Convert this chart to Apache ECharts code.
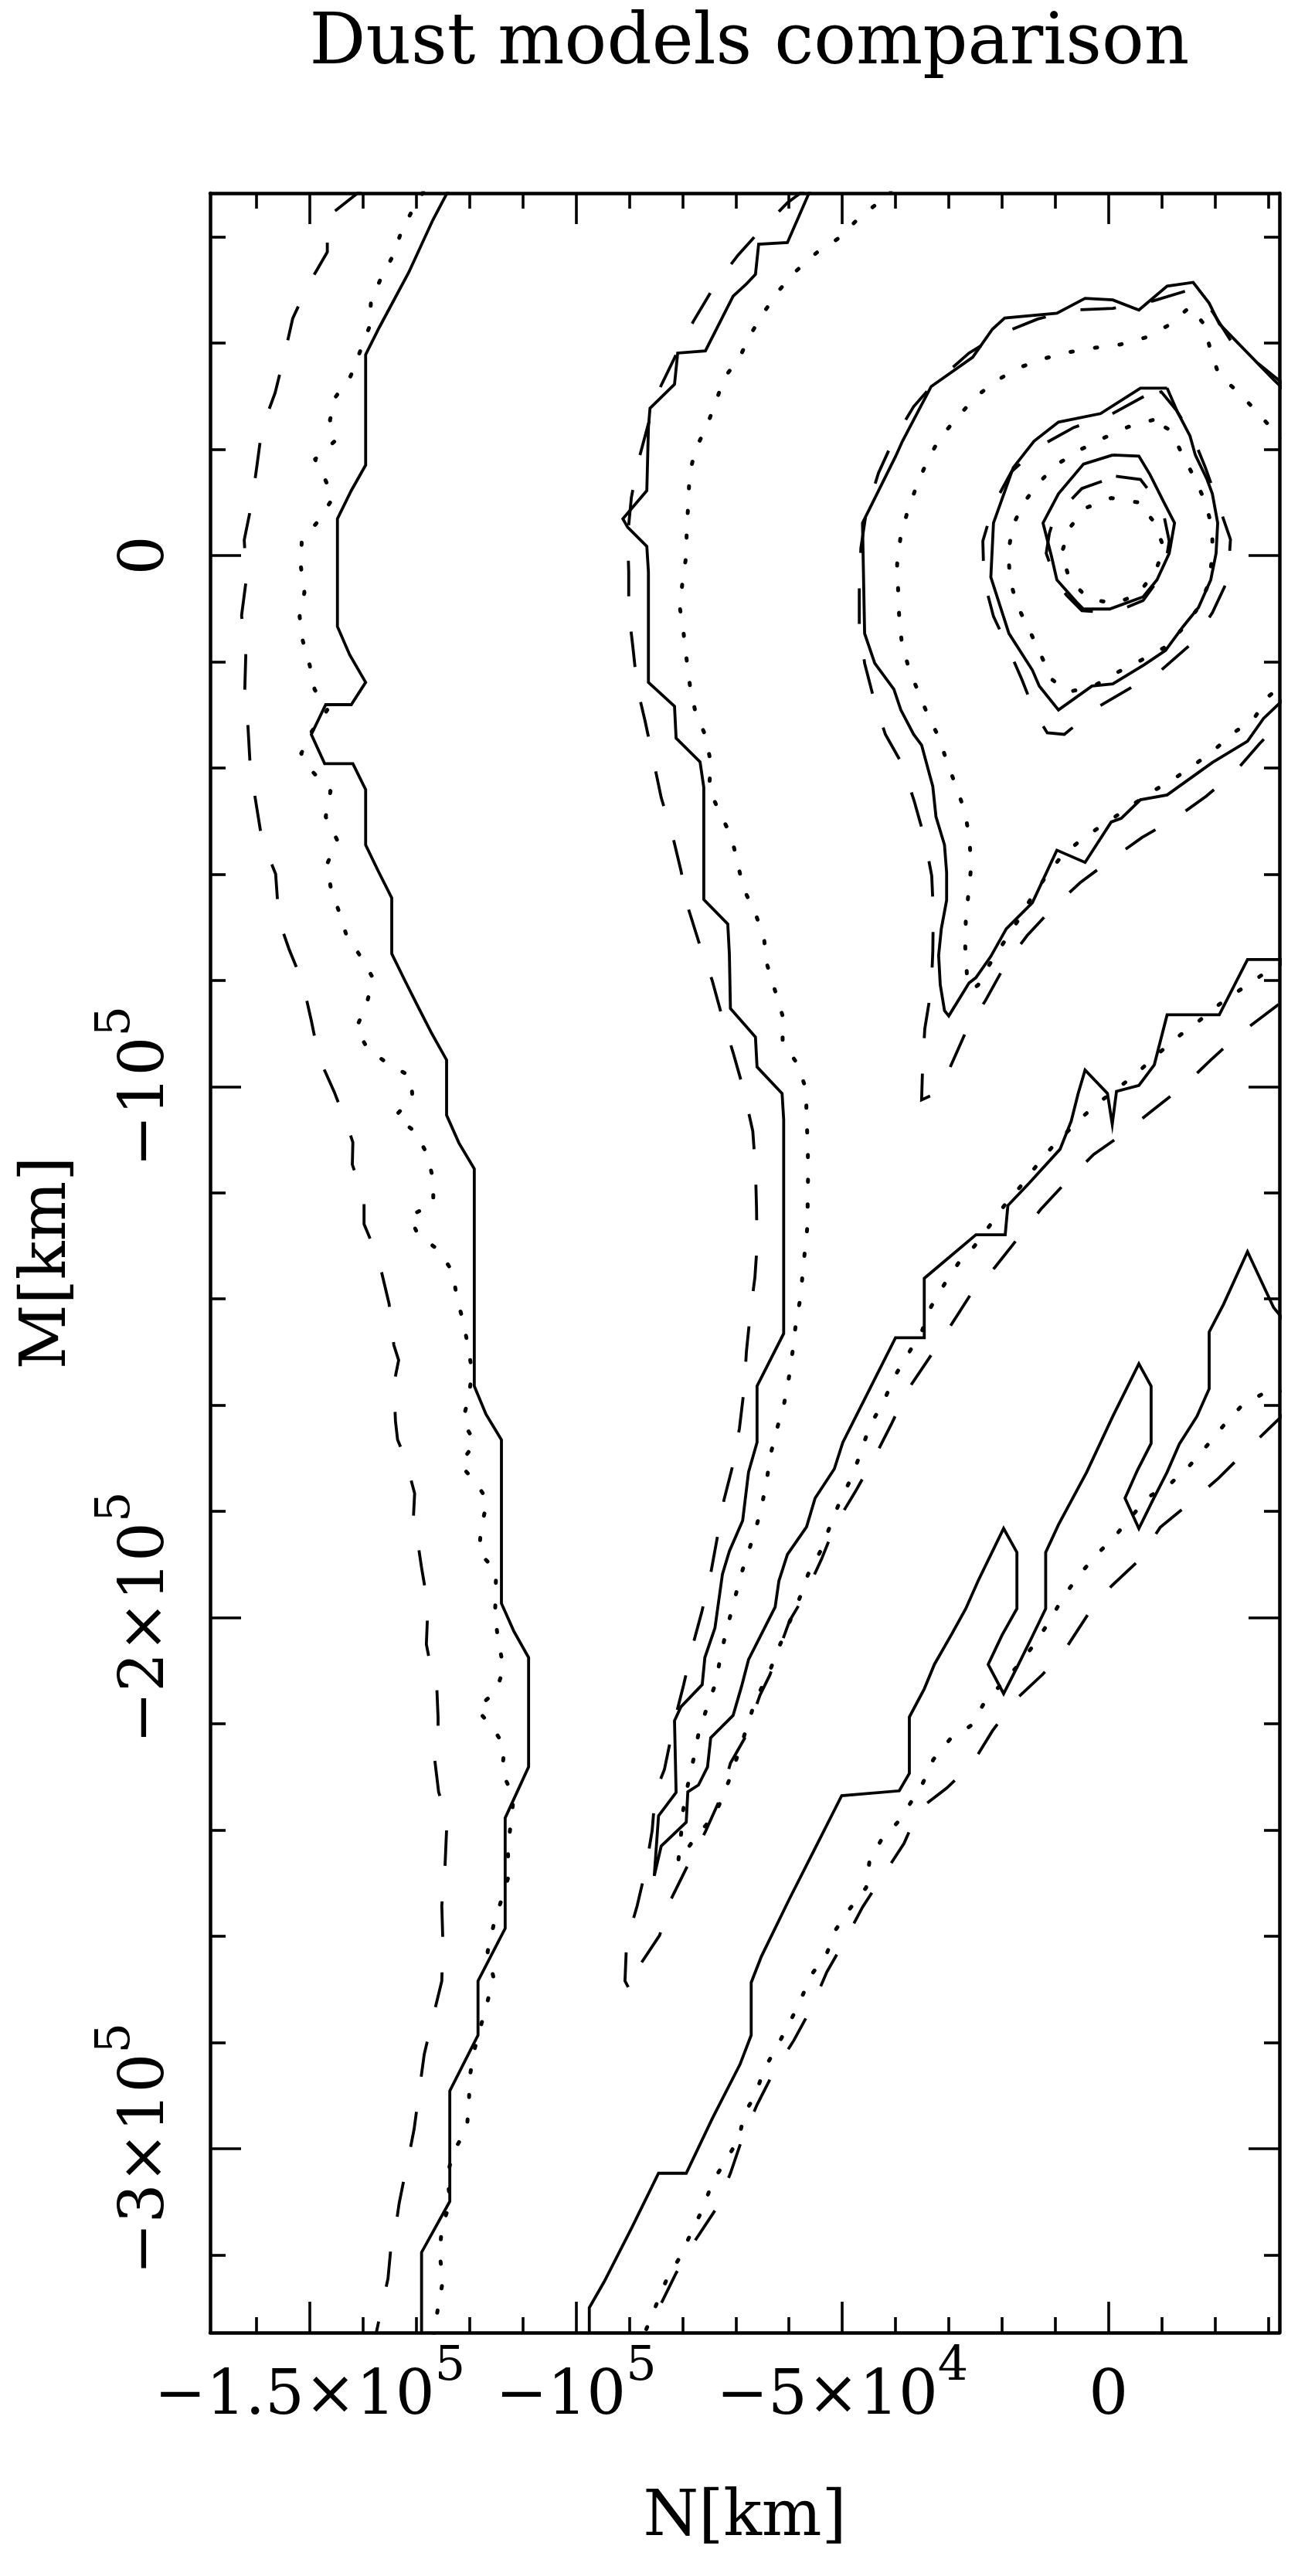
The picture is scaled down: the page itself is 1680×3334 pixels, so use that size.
<!DOCTYPE html>
<html>
<head>
<meta charset="utf-8">
<script src="https://cdn.jsdelivr.net/npm/echarts@6/dist/echarts.min.js"></script>
<style>
html,body{margin:0;padding:0;background:#fff;}
#chart{width:1680px;height:3334px;}
</style>
</head>
<body>
<div id="chart"></div>
<script>
// All coordinates in units of 10^3 km  (N = x, M = y)
const xRange = [-168.7, 32.1];
const yRange = [-334.6, 68.2];
const xMajorTicks = [-150, -100, -50, 0];
const xMinorTicks = [-160, -140, -130, -120, -110, -90, -80, -70, -60, -40, -30, -20, -10, 10, 20, 30];
const yMajorTicks = [-300, -200, -100, 0];
const yMinorTicks = [-320, -280, -260, -240, -220, -180, -160, -140, -120, -80, -60, -40, -20, 20, 40, 60];
const xTickLabels = { '-150': ['−1.5×10', '5'], '-100': ['−10', '5'], '-50': ['−5×10', '4'], '0': ['0', ''] };
const yTickLabels = { '0': ['0', ''], '-100': ['−10', '5'], '-200': ['−2×10', '5'], '-300': ['−3×10', '5'] };

// ---- western band ----
const solidWest = [[-123.8,69.0],[-126.9,63.1],[-131.4,53.3],[-136.9,43.0],[-139.5,37.8],[-139.5,17.0],[-142.2,12.2],[-144.8,6.9],[-144.8,-13.4],[-142.5,-18.7],[-139.5,-23.9],[-142.2,-28.1],[-147.0,-28.1],[-149.7,-33.7],[-147.2,-39.2],[-141.9,-39.2],[-139.5,-44.1],[-139.5,-54.5],[-137.2,-59.3],[-134.6,-64.5],[-134.6,-75.0],[-132.1,-80.1],[-129.5,-85.3],[-127.2,-89.8],[-124.3,-95.0],[-124.3,-105.4],[-122.0,-110.6],[-119.1,-115.5],[-119.1,-156.4],[-116.9,-161.7],[-114.0,-166.5],[-114.0,-197.3],[-111.7,-202.5],[-108.9,-207.5],[-108.9,-228.1],[-113.3,-237.7],[-113.3,-258.5],[-118.4,-268.4],[-118.4,-278.6],[-123.7,-289.1],[-123.7,-309.9],[-129.0,-319.5],[-129.0,-336.0]];
const dottedWest = [[-128.7,68.4],[-130.3,65.7],[-132.7,61.3],[-134.2,56.7],[-136.5,52.5],[-138.5,47.8],[-138.8,43.0],[-142.3,33.8],[-145.1,29.9],[-146.2,25.5],[-145.2,21.6],[-149.0,18.1],[-147.2,14.5],[-145.6,10.9],[-148.3,6.6],[-151.5,2.7],[-151.7,-1.8],[-151.0,-7.0],[-151.9,-11.5],[-151.3,-16.1],[-150.0,-20.7],[-149.1,-25.2],[-146.7,-29.1],[-149.6,-33.1],[-151.6,-37.3],[-149.3,-40.9],[-146.1,-44.4],[-147.0,-49.2],[-144.8,-53.7],[-146.7,-58.0],[-146.1,-62.3],[-144.6,-66.8],[-143.2,-71.2],[-140.6,-75.3],[-138.1,-79.6],[-139.3,-84.4],[-141.3,-89.1],[-139.1,-92.9],[-135.2,-95.8],[-131.0,-98.1],[-130.7,-102.2],[-133.9,-105.5],[-130.0,-108.7],[-127.9,-112.9],[-126.8,-117.6],[-126.8,-122.1],[-131.3,-124.4],[-129.7,-127.8],[-125.8,-130.8],[-123.1,-135.0],[-122.4,-139.7],[-121.1,-144.5],[-120.2,-149.4],[-119.5,-153.8],[-120.2,-158.7],[-121.3,-163.1],[-118.9,-167.0],[-121.8,-171.1],[-118.9,-174.5],[-116.6,-177.9],[-117.8,-182.9],[-118.2,-187.7],[-115.0,-191.2],[-115.2,-199.6],[-114.6,-204.4],[-113.6,-209.4],[-114.9,-213.7],[-118.7,-217.2],[-115.7,-220.6],[-113.4,-224.3],[-113.9,-229.0],[-111.7,-233.8],[-112.8,-243.7],[-112.6,-248.5],[-114.0,-253.1],[-115.5,-258.0],[-116.6,-262.9],[-115.5,-267.7],[-116.6,-272.2],[-119.2,-281.8],[-120.0,-286.8],[-120.1,-291.5],[-120.5,-296.2],[-123.1,-300.7],[-124.2,-305.2],[-123.6,-310.0],[-125.2,-314.8],[-125.6,-319.8],[-125.0,-324.9],[-125.9,-329.8],[-126.6,-334.3],[-126.8,-336.0]];
const dashedWest = [[-140.0,69.0],[-146.7,63.7],[-146.7,57.1],[-150.3,50.9],[-153.2,44.6],[-154.8,37.5],[-156.5,30.6],[-159.0,23.8],[-159.9,17.0],[-160.9,9.8],[-162.3,2.9],[-161.9,-4.4],[-162.8,-11.3],[-162.0,-18.5],[-162.2,-25.4],[-161.6,-32.2],[-161.2,-39.3],[-160.3,-45.3],[-159.0,-53.4],[-156.4,-60.0],[-155.8,-68.6],[-153.9,-74.1],[-151.3,-80.5],[-149.7,-87.6],[-148.3,-94.5],[-145.4,-101.0],[-142.9,-107.5],[-141.9,-110.5],[-142.0,-114.7],[-139.8,-121.1],[-139.8,-125.9],[-138.8,-128.3],[-136.5,-135.0],[-135.1,-140.9],[-134.2,-148.7],[-133.3,-151.5],[-134.2,-156.0],[-133.9,-163.0],[-133.5,-166.5],[-132.1,-169.9],[-130.3,-176.6],[-130.6,-182.5],[-130.0,-183.8],[-129.0,-190.6],[-127.8,-197.7],[-128.1,-205.0],[-127.6,-207.6],[-126.2,-211.7],[-125.9,-218.8],[-125.9,-222.9],[-126.6,-226.1],[-125.8,-232.8],[-124.2,-238.0],[-124.3,-239.9],[-124.6,-246.9],[-125.2,-254.2],[-125.0,-261.0],[-125.2,-268.4],[-126.8,-275.0],[-128.5,-282.2],[-129.4,-288.9],[-130.4,-296.3],[-131.7,-303.0],[-132.1,-304.7],[-133.2,-310.2],[-134.2,-317.1],[-134.8,-319.0],[-135.3,-324.4],[-137.5,-334.6],[-137.8,-336.0]];

// ---- central tongue ----
const solidTongue = [[-55.9,69.0],[-60.3,58.9],[-65.7,58.6],[-66.3,52.9],[-68.1,51.0],[-70.5,48.8],[-75.7,38.5],[-80.9,38.1],[-81.5,32.2],[-86.1,27.7],[-86.4,24.1],[-86.7,12.2],[-91.2,6.9],[-90.3,5.3],[-86.7,1.7],[-86.4,-3.1],[-86.4,-23.9],[-81.5,-28.4],[-81.2,-34.4],[-76.7,-38.9],[-76.0,-43.7],[-76.0,-64.8],[-71.5,-69.4],[-71.2,-75.0],[-71.0,-85.3],[-68.1,-88.6],[-66.3,-90.7],[-66.0,-96.3],[-61.3,-101.3],[-61.0,-106.2],[-61.0,-146.5],[-66.0,-156.4],[-66.0,-167.0],[-67.6,-172.6],[-68.7,-181.7],[-71.2,-187.5],[-72.5,-191.8],[-73.9,-201.9],[-75.8,-207.5],[-76.3,-212.6],[-80.3,-216.8],[-81.5,-219.4],[-81.2,-232.9],[-84.5,-237.3],[-85.3,-248.6],[-84.0,-243.0],[-79.3,-238.5],[-79.0,-232.8],[-77.0,-231.5],[-75.3,-228.1],[-74.7,-222.6],[-70.5,-218.4],[-68.9,-212.9],[-67.6,-207.9],[-62.6,-198.0],[-61.9,-193.1],[-60.3,-188.1],[-56.7,-182.9],[-55.1,-177.5],[-51.5,-172.0],[-49.9,-167.0],[-40.0,-147.3],[-34.6,-147.3],[-34.6,-136.1],[-29.4,-131.7],[-24.9,-127.9],[-19.4,-127.9],[-18.9,-122.4],[-15.0,-118.3],[-9.1,-111.8],[-7.0,-106.5],[-5.7,-101.3],[-4.4,-96.9],[-0.2,-101.3],[0.7,-107.1],[1.5,-100.9],[5.7,-99.8],[8.6,-95.9],[11.0,-86.5],[20.8,-86.5],[26.1,-76.1],[33.2,-76.1]];
const dottedTongue = [[-40.6,69.0],[-42.9,66.7],[-47.2,63.2],[-50.7,59.7],[-54.8,57.0],[-58.6,53.6],[-61.8,50.0],[-64.7,45.8],[-67.4,41.3],[-69.3,37.2],[-72.2,33.4],[-73.8,28.7],[-75.5,24.2],[-77.7,19.7],[-78.7,14.9],[-78.9,10.0],[-79.2,5.0],[-79.3,-0.1],[-80.0,-4.9],[-80.5,-9.8],[-79.8,-14.6],[-79.2,-19.8],[-78.6,-24.5],[-77.6,-29.4],[-75.7,-33.9],[-74.7,-39.0],[-75.0,-44.1],[-72.9,-48.6],[-70.8,-53.0],[-69.7,-57.7],[-68.6,-62.6],[-66.3,-67.4],[-64.7,-72.1],[-64.1,-77.1],[-62.6,-82.0],[-61.2,-86.7],[-61.2,-91.7],[-58.3,-95.9],[-56.8,-100.6],[-56.7,-105.8],[-56.5,-110.7],[-56.4,-116.0],[-56.5,-120.8],[-56.5,-125.9],[-57.0,-130.8],[-57.4,-134.6],[-57.8,-139.5],[-58.7,-144.5],[-59.3,-149.7],[-60.0,-154.7],[-60.9,-159.6],[-62.3,-164.6],[-63.5,-169.4],[-64.2,-174.3],[-65.2,-179.4],[-66.5,-184.2],[-68.1,-189.0],[-69.3,-192.9],[-70.5,-197.7],[-71.8,-202.5],[-72.9,-207.6],[-73.8,-212.4],[-75.5,-217.2],[-77.0,-221.9],[-77.9,-226.5],[-79.0,-231.5],[-79.9,-236.4],[-80.3,-241.1],[-80.8,-246.0],[-78.3,-242.4],[-73.7,-236.7],[-71.0,-230.0],[-68.6,-222.8],[-66.3,-215.5],[-63.8,-210.5],[-61.9,-205.6],[-58.0,-196.3],[-56.4,-191.8],[-53.9,-187.1],[-52.2,-182.5],[-50.4,-178.0],[-48.1,-173.3],[-46.4,-168.5],[-44.8,-163.8],[-42.3,-159.5],[-40.3,-154.8],[-37.8,-150.6],[-35.1,-146.2],[-33.3,-141.4],[-30.8,-137.2],[-28.1,-133.1],[-25.3,-130.2],[-22.1,-125.9],[-19.2,-121.9],[-16.0,-118.2],[-13.0,-114.2],[-9.9,-110.6],[-6.0,-106.8],[-2.5,-103.5],[1.4,-100.6],[5.3,-97.5],[9.1,-94.0],[12.8,-90.8],[16.8,-87.8],[20.7,-84.6],[24.7,-81.8],[28.8,-79.0],[33.2,-76.4]];
const dashedTongue = [[-56.8,69.0],[-60.3,66.4],[-66.0,60.5],[-69.6,56.5],[-74.2,50.4],[-78.0,44.0],[-81.2,37.8],[-84.3,31.4],[-86.4,24.8],[-88.3,17.7],[-89.6,10.9],[-90.3,3.7],[-90.1,-3.1],[-90.1,-10.5],[-89.3,-17.4],[-88.5,-24.9],[-87.0,-31.3],[-85.4,-38.9],[-84.0,-45.6],[-81.9,-52.6],[-80.3,-59.3],[-78.9,-66.5],[-76.9,-72.9],[-74.4,-80.1],[-72.6,-86.7],[-70.5,-93.6],[-68.6,-100.3],[-66.8,-108.4],[-66.3,-115.4],[-66.1,-122.8],[-66.0,-130.0],[-66.4,-135.9],[-67.3,-143.0],[-68.0,-149.9],[-68.4,-156.7],[-69.3,-164.3],[-70.5,-171.1],[-72.2,-177.8],[-73.5,-185.1],[-74.8,-192.2],[-76.4,-199.0],[-78.2,-205.7],[-79.8,-212.7],[-81.5,-219.4],[-83.4,-228.6],[-85.1,-232.9],[-85.7,-240.1],[-86.9,-247.3],[-88.5,-254.2],[-90.5,-261.1],[-90.8,-268.4],[-89.8,-270.3],[-88.2,-265.7],[-84.3,-259.8],[-82.1,-252.9],[-79.0,-246.6],[-75.7,-240.3],[-72.8,-233.8],[-71.0,-227.4],[-68.1,-222.3],[-65.5,-214.7],[-63.6,-210.8],[-59.9,-200.6],[-57.0,-195.7],[-53.9,-189.0],[-51.3,-182.5],[-47.5,-176.2],[-44.0,-169.9],[-40.7,-163.4],[-37.7,-157.1],[-33.6,-151.0],[-29.7,-145.1],[-25.8,-139.0],[-21.3,-134.0],[-17.2,-128.8],[-12.7,-123.1],[-7.9,-117.9],[-2.8,-112.8],[3.0,-108.7],[8.6,-104.2],[14.2,-99.8],[19.2,-95.0],[24.6,-90.1],[33.2,-83.6]];

// ---- teardrop (outer, open to the east edge) ----
const solidTear = [[33.2,31.0],[31.0,33.1],[20.8,43.6],[18.9,47.5],[15.9,51.4],[11.0,50.7],[5.7,46.2],[0.8,48.1],[-4.4,48.4],[-9.7,45.6],[-19.5,44.7],[-21.8,42.6],[-25.5,37.3],[-33.3,31.8],[-38.7,21.5],[-40.0,18.6],[-46.2,6.1],[-45.8,-14.7],[-43.9,-20.3],[-40.3,-25.2],[-39.0,-29.1],[-36.6,-33.7],[-35.1,-35.7],[-33.0,-43.5],[-32.4,-49.2],[-30.8,-54.5],[-30.4,-59.7],[-30.4,-64.9],[-31.4,-70.3],[-31.9,-75.3],[-31.6,-80.8],[-30.8,-85.7],[-30.0,-86.7],[-26.2,-80.5],[-24.9,-79.5],[-22.1,-75.5],[-19.2,-70.3],[-14.3,-65.4],[-9.7,-55.5],[-4.4,-57.8],[0.5,-50.2],[2.4,-49.5],[6.0,-46.0],[11.0,-45.1],[19.5,-39.0],[26.1,-35.0],[29.1,-30.7],[33.2,-26.8]];
const dashedTear = [[33.2,32.0],[23.1,40.2],[19.7,45.6],[16.8,49.5],[14.6,49.8],[8.3,47.9],[0.8,46.5],[-6.7,46.2],[-13.3,44.5],[-20.2,41.7],[-26.2,38.1],[-33.3,31.8],[-36.6,28.0],[-40.3,21.9],[-43.2,15.5],[-45.5,8.1],[-46.5,1.4],[-46.8,-6.2],[-46.8,-13.0],[-45.8,-20.3],[-44.0,-27.3],[-41.9,-33.7],[-38.8,-39.2],[-36.5,-46.2],[-34.6,-53.0],[-33.2,-60.3],[-32.9,-67.1],[-33.0,-74.7],[-33.3,-81.7],[-34.5,-89.1],[-34.9,-95.9],[-35.1,-102.5],[-33.3,-101.7],[-29.8,-96.5],[-26.8,-89.7],[-23.1,-83.8],[-19.4,-77.1],[-15.3,-71.6],[-10.5,-66.4],[-5.3,-61.6],[0.7,-57.1],[6.3,-53.1],[12.7,-49.4],[18.4,-45.3],[23.9,-40.6],[28.4,-35.4],[33.2,-30.5]];
const dottedTear = [[33.2,21.8],[31.0,23.5],[27.8,27.1],[24.3,30.8],[20.7,34.0],[19.1,38.9],[17.8,43.7],[15.3,46.8],[11.4,43.4],[7.2,41.1],[2.2,39.7],[-2.5,39.1],[-7.8,38.2],[-12.3,37.0],[-16.9,35.3],[-21.4,32.7],[-25.2,29.6],[-28.5,25.8],[-31.7,22.1],[-34.2,17.4],[-36.1,12.9],[-37.8,8.1],[-39.1,3.1],[-39.7,-1.7],[-39.5,-6.7],[-39.3,-11.8],[-38.8,-16.6],[-37.4,-21.6],[-35.5,-26.2],[-33.6,-30.9],[-31.9,-34.1],[-30.3,-39.0],[-28.5,-43.8],[-26.9,-48.5],[-26.1,-53.6],[-25.8,-58.7],[-26.3,-63.6],[-26.8,-68.6],[-26.9,-73.8],[-26.6,-78.7],[-25.6,-81.7],[-24.5,-80.9],[-22.4,-77.1],[-19.7,-72.9],[-16.9,-68.6],[-14.4,-64.3],[-11.5,-60.1],[-8.8,-56.6],[-4.6,-53.1],[-0.5,-50.4],[3.7,-47.5],[7.8,-44.7],[12.1,-42.2],[16.3,-39.3],[20.2,-36.3],[23.9,-33.1],[27.2,-30.9],[30.1,-26.5],[33.2,-23.9]];

// ---- inner rings ----
const solidRing2 = [[11.0,31.5],[6.0,31.5],[-1.5,26.7],[-9.4,25.1],[-14.0,21.5],[-17.9,16.5],[-21.6,6.1],[-22.1,-4.1],[-18.7,-14.7],[-14.3,-21.6],[-13.0,-24.6],[-9.4,-29.1],[-3.1,-24.6],[0.8,-24.2],[6.7,-20.6],[10.7,-17.9],[14.0,-13.4],[16.9,-9.8],[19.2,-4.6],[20.2,0.4],[20.5,6.1],[19.5,11.6],[18.5,14.3],[16.3,18.9],[15.3,22.5],[13.0,26.9],[11.0,31.5]];
const dottedRing2 = [[8.3,25.5],[3.7,24.2],[-0.7,22.2],[-5.3,19.9],[-9.4,17.3],[-13.0,13.8],[-16.0,9.8],[-18.1,5.3],[-18.8,0.4],[-18.5,-4.7],[-17.1,-9.5],[-14.9,-14.0],[-12.7,-18.7],[-10.7,-23.3],[-7.5,-25.7],[-2.8,-24.6],[1.7,-22.0],[6.0,-19.8],[10.4,-17.4],[14.0,-13.7],[16.9,-9.8],[18.9,-5.1],[19.5,0.1],[19.5,5.0],[18.2,10.0],[16.3,14.3],[13.9,18.9],[11.7,23.5],[8.3,25.5]];
const dashedRing2 = [[6.6,29.9],[0.2,26.4],[-6.5,24.1],[-12.8,20.6],[-18.2,15.8],[-21.6,9.5],[-23.6,2.7],[-23.4,-4.6],[-21.6,-11.5],[-19.2,-16.6],[-16.3,-23.3],[-13.7,-29.9],[-11.5,-33.4],[-8.3,-33.7],[-2.1,-28.6],[3.7,-25.2],[9.9,-21.6],[15.6,-16.6],[19.5,-10.8],[22.4,-4.6],[22.9,3.0],[20.5,10.0],[18.2,16.5],[15.9,22.2],[12.7,27.4],[9.9,30.8],[6.6,29.9]];
const solidRing3 = [[0.8,18.9],[5.7,18.7],[7.8,15.2],[10.4,10.0],[12.4,6.1],[11.4,0.4],[9.1,-4.6],[6.5,-7.8],[0.2,-10.1],[-4.7,-10.1],[-6.0,-8.8],[-9.7,-4.6],[-10.7,-0.2],[-12.3,6.1],[-9.4,11.6],[-4.7,17.2],[0.8,18.9]];
const dottedRing3 = [[5.4,10.0],[0.5,10.8],[-4.1,9.0],[-7.3,5.2],[-8.8,0.4],[-7.3,-4.6],[-3.8,-8.1],[1.1,-9.1],[5.4,-7.4],[8.8,-3.1],[10.4,1.4],[8.6,6.3],[5.4,10.0]];
const dashedRing3 = [[1.4,14.9],[6.0,14.3],[7.6,12.2],[10.2,8.5],[11.4,2.7],[10.7,-1.7],[8.8,-5.3],[6.5,-8.5],[0.9,-10.8],[-5.0,-10.4],[-7.9,-7.5],[-10.1,-4.1],[-11.7,0.4],[-11.1,4.2],[-10.1,7.3],[-5.0,12.6],[1.4,14.9]];

// ---- southern band ----
const solidSouth = [[33.2,-144.3],[31.0,-141.6],[26.1,-131.1],[21.6,-141.0],[18.9,-146.2],[18.9,-156.9],[16.6,-162.1],[13.3,-167.3],[11.0,-172.6],[8.3,-177.9],[5.7,-183.2],[3.1,-177.5],[5.4,-172.3],[8.0,-167.2],[8.0,-156.4],[5.7,-152.2],[0.8,-162.1],[-4.1,-172.6],[-9.4,-182.5],[-11.8,-187.7],[-11.8,-198.3],[-14.3,-203.5],[-16.9,-208.8],[-19.7,-214.3],[-22.6,-208.8],[-20.0,-203.3],[-17.2,-198.3],[-17.2,-187.7],[-19.7,-183.2],[-24.5,-193.1],[-26.8,-198.3],[-29.4,-203.0],[-32.7,-208.8],[-34.6,-213.4],[-37.4,-218.7],[-37.4,-229.3],[-39.3,-232.6],[-50.1,-233.5],[-55.1,-243.4],[-60.0,-253.1],[-65.2,-263.8],[-67.1,-268.7],[-67.1,-278.6],[-69.2,-284.1],[-74.4,-294.3],[-79.3,-304.6],[-84.5,-304.6],[-89.5,-314.8],[-94.7,-325.0],[-97.5,-329.9],[-97.5,-336.0]];
const dottedSouth = [[33.2,-157.3],[29.2,-157.7],[25.0,-160.1],[21.7,-163.7],[18.5,-167.6],[15.2,-171.4],[11.7,-174.7],[7.3,-177.4],[1.1,-184.8],[-2.4,-188.3],[-5.6,-192.1],[-8.5,-196.1],[-11.0,-200.5],[-13.7,-204.7],[-16.9,-208.9],[-20.2,-212.6],[-23.4,-216.1],[-25.5,-220.1],[-29.7,-222.8],[-32.9,-226.7],[-34.8,-231.0],[-39.1,-238.0],[-42.6,-241.7],[-44.9,-245.9],[-45.5,-250.8],[-48.5,-254.7],[-51.2,-258.7],[-52.9,-263.2],[-55.7,-267.1],[-57.8,-271.9],[-59.9,-276.3],[-62.3,-280.8],[-64.7,-285.1],[-66.3,-289.8],[-68.4,-293.4],[-69.4,-298.0],[-71.9,-302.3],[-74.4,-306.2],[-76.0,-310.9],[-78.2,-315.4],[-80.3,-320.1],[-82.9,-324.4],[-84.7,-328.8],[-86.9,-334.2],[-87.3,-336.0]];
const dashedSouth = [[33.2,-161.4],[25.6,-168.8],[20.7,-173.7],[15.3,-178.4],[9.7,-183.0],[5.7,-189.2],[0.5,-194.1],[-4.0,-199.6],[-7.9,-205.6],[-12.4,-210.7],[-17.6,-215.6],[-21.8,-221.3],[-25.6,-227.5],[-30.4,-232.1],[-35.6,-236.1],[-38.4,-242.5],[-42.3,-248.5],[-46.2,-254.5],[-49.4,-260.6],[-52.9,-266.7],[-55.8,-273.5],[-59.1,-279.6],[-62.9,-285.6],[-66.0,-291.7],[-68.9,-298.4],[-71.0,-304.6],[-73.7,-311.3],[-77.6,-317.2],[-81.2,-323.4],[-84.3,-329.7],[-86.9,-334.8],[-87.4,-336.0]];

const contours = [
  ['solid', solidWest], ['dotted', dottedWest], ['dashed', dashedWest],
  ['solid', solidTongue], ['dotted', dottedTongue], ['dashed', dashedTongue],
  ['solid', solidTear], ['dashed', dashedTear], ['dotted', dottedTear],
  ['solid', solidRing2], ['dotted', dottedRing2], ['dashed', dashedRing2],
  ['solid', solidRing3], ['dotted', dottedRing3], ['dashed', dashedRing3],
  ['solid', solidSouth], ['dotted', dottedSouth], ['dashed', dashedSouth]
];

const FONT = 'DejaVu Serif';
const INK = '#000';
const lineStyles = {
  solid:  { color: INK, width: 3.8, type: 'solid', cap: 'butt', join: 'miter' },
  dashed: { color: INK, width: 3.8, type: [46, 46], cap: 'butt', join: 'miter' },
  dotted: { color: INK, width: 5, type: [3, 29], cap: 'round', join: 'round' }
};

const labelRich = {
  m: { fontFamily: FONT, fontSize: 80, lineHeight: 140, color: INK },
  s: { fontFamily: FONT, fontSize: 62, lineHeight: 66, verticalAlign: 'top', color: INK }
};
function fmt(map) {
  return function (v) {
    const t = map[String(Math.round(v))];
    if (!t) return '';
    return t[1] ? '{m|' + t[0] + '}{s|' + t[1] + '}' : '{m|' + t[0] + '}';
  };
}

function xAx(position, ticks, len, withLabel, withLine) {
  return {
    type: 'value', position: position, min: xRange[0], max: xRange[1],
    axisLine: { show: withLine, onZero: false, lineStyle: { color: INK, width: 4.5 } },
    axisTick: { show: true, inside: true, length: len, customValues: ticks, lineStyle: { color: INK, width: 3.6 } },
    axisLabel: withLabel ? { show: true, customValues: ticks, formatter: fmt(xTickLabels), rich: labelRich, margin: 14, lineHeight: 140 } : { show: false },
    splitLine: { show: false },
    name: withLabel ? 'N[km]' : '',
    nameLocation: 'middle', nameGap: 200,
    nameTextStyle: { fontFamily: FONT, fontSize: 82, color: INK }
  };
}
function yAx(position, ticks, len, withLabel, withLine) {
  return {
    type: 'value', position: position, min: yRange[0], max: yRange[1],
    axisLine: { show: withLine, onZero: false, lineStyle: { color: INK, width: 4.5 } },
    axisTick: { show: true, inside: true, length: len, customValues: ticks, lineStyle: { color: INK, width: 3.6 } },
    axisLabel: withLabel ? { show: true, rotate: 90, customValues: ticks, formatter: fmt(yTickLabels), rich: labelRich, margin: 12, lineHeight: 140 } : { show: false },
    splitLine: { show: false },
    name: withLabel ? 'M[km]' : '',
    nameLocation: 'middle', nameGap: 168,
    nameTextStyle: { fontFamily: FONT, fontSize: 82, color: INK }
  };
}

const chart = echarts.init(document.getElementById('chart'), null, { renderer: 'canvas' });
chart.setOption({
  backgroundColor: '#fff',
  animation: false,
  title: {
    text: 'Dust models comparison',
    left: 965, top: 8, textAlign: 'center',
    textStyle: { fontFamily: FONT, fontSize: 91, fontWeight: 'normal', color: INK }
  },
  grid: { left: 272, right: 24, top: 250, bottom: 315, containLabel: false },
  xAxis: [
    xAx('bottom', xMajorTicks, 40, true, true),
    xAx('bottom', xMinorTicks, 20, false, false),
    xAx('top', xMajorTicks, 40, false, true),
    xAx('top', xMinorTicks, 20, false, false)
  ],
  yAxis: [
    yAx('left', yMajorTicks, 40, true, true),
    yAx('left', yMinorTicks, 20, false, false),
    yAx('right', yMajorTicks, 40, false, true),
    yAx('right', yMinorTicks, 20, false, false)
  ],
  series: contours.map(function (c) {
    return {
      type: 'line', xAxisIndex: 0, yAxisIndex: 0,
      data: c[1], showSymbol: false, symbol: 'none', smooth: false,
      clip: true, silent: true, lineStyle: lineStyles[c[0]]
    };
  })
});
</script>
</body>
</html>
